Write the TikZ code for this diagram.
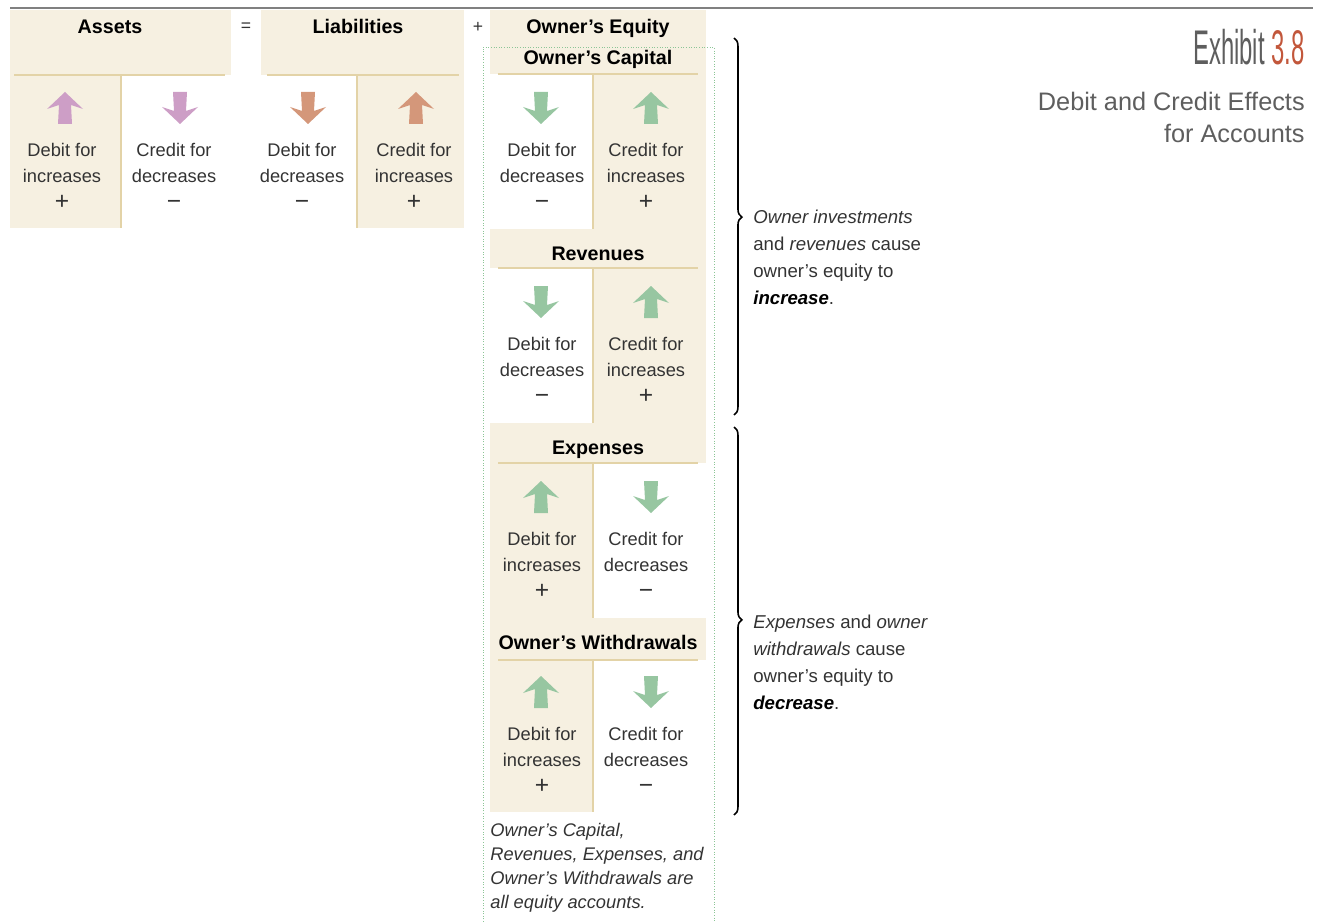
\documentclass[tikz,border=0pt]{standalone}
\usepackage{fontspec}
\setmainfont{Liberation Sans}
\usepackage{tikz}
\usetikzlibrary{decorations.pathreplacing}
\definecolor{parchment}{HTML}{F6F0E1}
\definecolor{tanrule}{HTML}{E3D3A7}
\definecolor{orchid}{HTML}{CD9EC6}
\definecolor{terracotta}{HTML}{D4977A}
\definecolor{sage}{HTML}{97C6A1}
\definecolor{inkgray}{HTML}{333333}
\definecolor{titlegray}{HTML}{5E5E5E}
\definecolor{rust}{HTML}{C2573B}
\definecolor{dotgreen}{HTML}{8CC596}

\newcommand{\plusmark}{{\fontsize{14}{15}\selectfont +}}
\newcommand{\minusmark}{{\fontsize{14}{15}\selectfont −}}

\tikzset{
  acctitle/.style={inner sep=0pt, anchor=base, font=\bfseries\fontsize{11.2}{13}\selectfont},
  cellnote/.style={inner sep=0pt, anchor=north, align=center, text=inkgray, font=\fontsize{10.4}{15}\selectfont},
  bracenote/.style={inner sep=0pt, anchor=north west, align=left, text=inkgray, font=\fontsize{10.6}{15.3}\selectfont},
  tanline/.style={tanrule, line width=1.6pt},
  uparr/.pic={\fill (0,-16)--(18,1)--(6,-3)--(7,16)--(-7,16)--(-6,-3)--(-18,1)--cycle;},
  downarr/.pic={\fill (0,16)--(18,-1)--(6,3)--(7,-16)--(-7,-16)--(-6,3)--(-18,-1)--cycle;}
}

\begin{document}
\begin{tikzpicture}[x=0.02cm, y=-0.02cm]
  \useasboundingbox (0,0) rectangle (1321,922);

  % top rule
  \draw[gray, line width=0.8pt] (10,8)--(1313,8);

  % Assets
  \fill[parchment] (10,10) rectangle (231,75);
  \fill[parchment] (10,75) rectangle (121,228);
  \draw[tanline] (14,75)--(225,75);
  \draw[tanline] (121,75)--(121,228);
  \node[acctitle] (assets) at (110,34) {Assets};
  \pic[fill=orchid] at (65,108) {uparr};
  \pic[fill=orchid] at (180,108) {downarr};
  \node[cellnote] (assetsdr) at (62,143) {Debit for\\increases\\\plusmark};
  \node[cellnote] (assetscr) at (174,143) {Credit for\\decreases\\\minusmark};

  \node[text=inkgray] (eqsign) at (246,27) {=};

  % Liabilities
  \fill[parchment] (261,10) rectangle (464,75);
  \fill[parchment] (357,75) rectangle (464,228);
  \draw[tanline] (267,75)--(459,75);
  \draw[tanline] (357,75)--(357,228);
  \node[acctitle] (liab) at (358,34) {Liabilities};
  \pic[fill=terracotta] at (308,108) {downarr};
  \pic[fill=terracotta] at (416,108) {uparr};
  \node[cellnote] (liabdr) at (302,143) {Debit for\\decreases\\\minusmark};
  \node[cellnote] (liabcr) at (414,143) {Credit for\\increases\\\plusmark};

  \node[text=inkgray] (plussign) at (478,27) {+};

  % Owner's Equity -- Owner's Capital
  \fill[parchment] (490,10) rectangle (706,74);
  \fill[parchment] (593,74) rectangle (706,229);
  \draw[tanline] (498,74)--(698,74);
  \draw[tanline] (593,74)--(593,229);
  \node[acctitle] (equity) at (598,34) {Owner’s Equity};
  \node[acctitle] (capital) at (598,65) {Owner’s Capital};
  \pic[fill=sage] at (541,108) {downarr};
  \pic[fill=sage] at (651,108) {uparr};
  \node[cellnote] (capitaldr) at (542,143) {Debit for\\decreases\\\minusmark};
  \node[cellnote] (capitalcr) at (646,143) {Credit for\\increases\\\plusmark};

  % Revenues
  \fill[parchment] (490,229) rectangle (706,268);
  \fill[parchment] (593,268) rectangle (706,423);
  \draw[tanline] (498,268)--(698,268);
  \draw[tanline] (593,268)--(593,423);
  \node[acctitle] (revenues) at (598,260) {Revenues};
  \pic[fill=sage] at (541,302) {downarr};
  \pic[fill=sage] at (651,302) {uparr};
  \node[cellnote] (revenuesdr) at (542,337) {Debit for\\decreases\\\minusmark};
  \node[cellnote] (revenuescr) at (646,337) {Credit for\\increases\\\plusmark};

  % Expenses
  \fill[parchment] (490,423) rectangle (706,463);
  \fill[parchment] (490,463) rectangle (593,618);
  \draw[tanline] (498,463)--(698,463);
  \draw[tanline] (593,463)--(593,618);
  \node[acctitle] (expenses) at (598,454) {Expenses};
  \pic[fill=sage] at (541,497) {uparr};
  \pic[fill=sage] at (651,497) {downarr};
  \node[cellnote] (expensesdr) at (542,532) {Debit for\\increases\\\plusmark};
  \node[cellnote] (expensescr) at (646,532) {Credit for\\decreases\\\minusmark};

  % Owner's Withdrawals
  \fill[parchment] (490,618) rectangle (706,660);
  \fill[parchment] (490,660) rectangle (593,812);
  \draw[tanline] (498,660)--(698,660);
  \draw[tanline] (593,660)--(593,812);
  \node[acctitle] (withdrawals) at (598,649) {Owner’s Withdrawals};
  \pic[fill=sage] at (541,692) {uparr};
  \pic[fill=sage] at (651,692) {downarr};
  \node[cellnote] (withdrawalsdr) at (542,727) {Debit for\\increases\\\plusmark};
  \node[cellnote] (withdrawalscr) at (646,727) {Credit for\\decreases\\\minusmark};

  % equity accounts frame
  \draw[dotgreen, densely dotted, line width=0.5pt] (483,922)--(483,47)--(714,47)--(714,922);
  \node[bracenote, font=\itshape\fontsize{10.4}{13.6}\selectfont] (eqnote) at (490,823)
    {Owner’s Capital,\\Revenues, Expenses, and\\Owner’s Withdrawals are\\all equity accounts.};

  % braces
  \draw[line width=0.9pt, decorate, decoration={brace, amplitude=4.5pt, aspect=0.475}] (734,38)--(734,415);
  \draw[line width=0.9pt, decorate, decoration={brace, amplitude=4.5pt, aspect=0.497}] (734,427)--(734,815);
  \node[bracenote] (upnote) at (753,210)
    {\textit{Owner investments}\\and \textit{revenues} cause\\owner’s equity to\\\textcolor{black}{\textbf{\textit{increase}}}.};
  \node[bracenote] (downnote) at (753,615)
    {\textit{Expenses} and \textit{owner}\\\textit{withdrawals} cause\\owner’s equity to\\\textcolor{black}{\textbf{\textit{decrease}}}.};

  % exhibit title
  \node[inner sep=0pt, anchor=base east, font=\fontsize{27.7}{30}\selectfont] (exhibit) at (1305,65)
    {\scalebox{0.49}[1]{\textcolor{titlegray}{Exhibit} \textcolor{rust}{3.8}}};
  \node[inner sep=0pt, anchor=north east, align=right, text=titlegray, font=\fontsize{14.4}{18.1}\selectfont] (subtitle) at (1305,92)
    {Debit and Credit Effects\\for Accounts};
\end{tikzpicture}
\end{document}
